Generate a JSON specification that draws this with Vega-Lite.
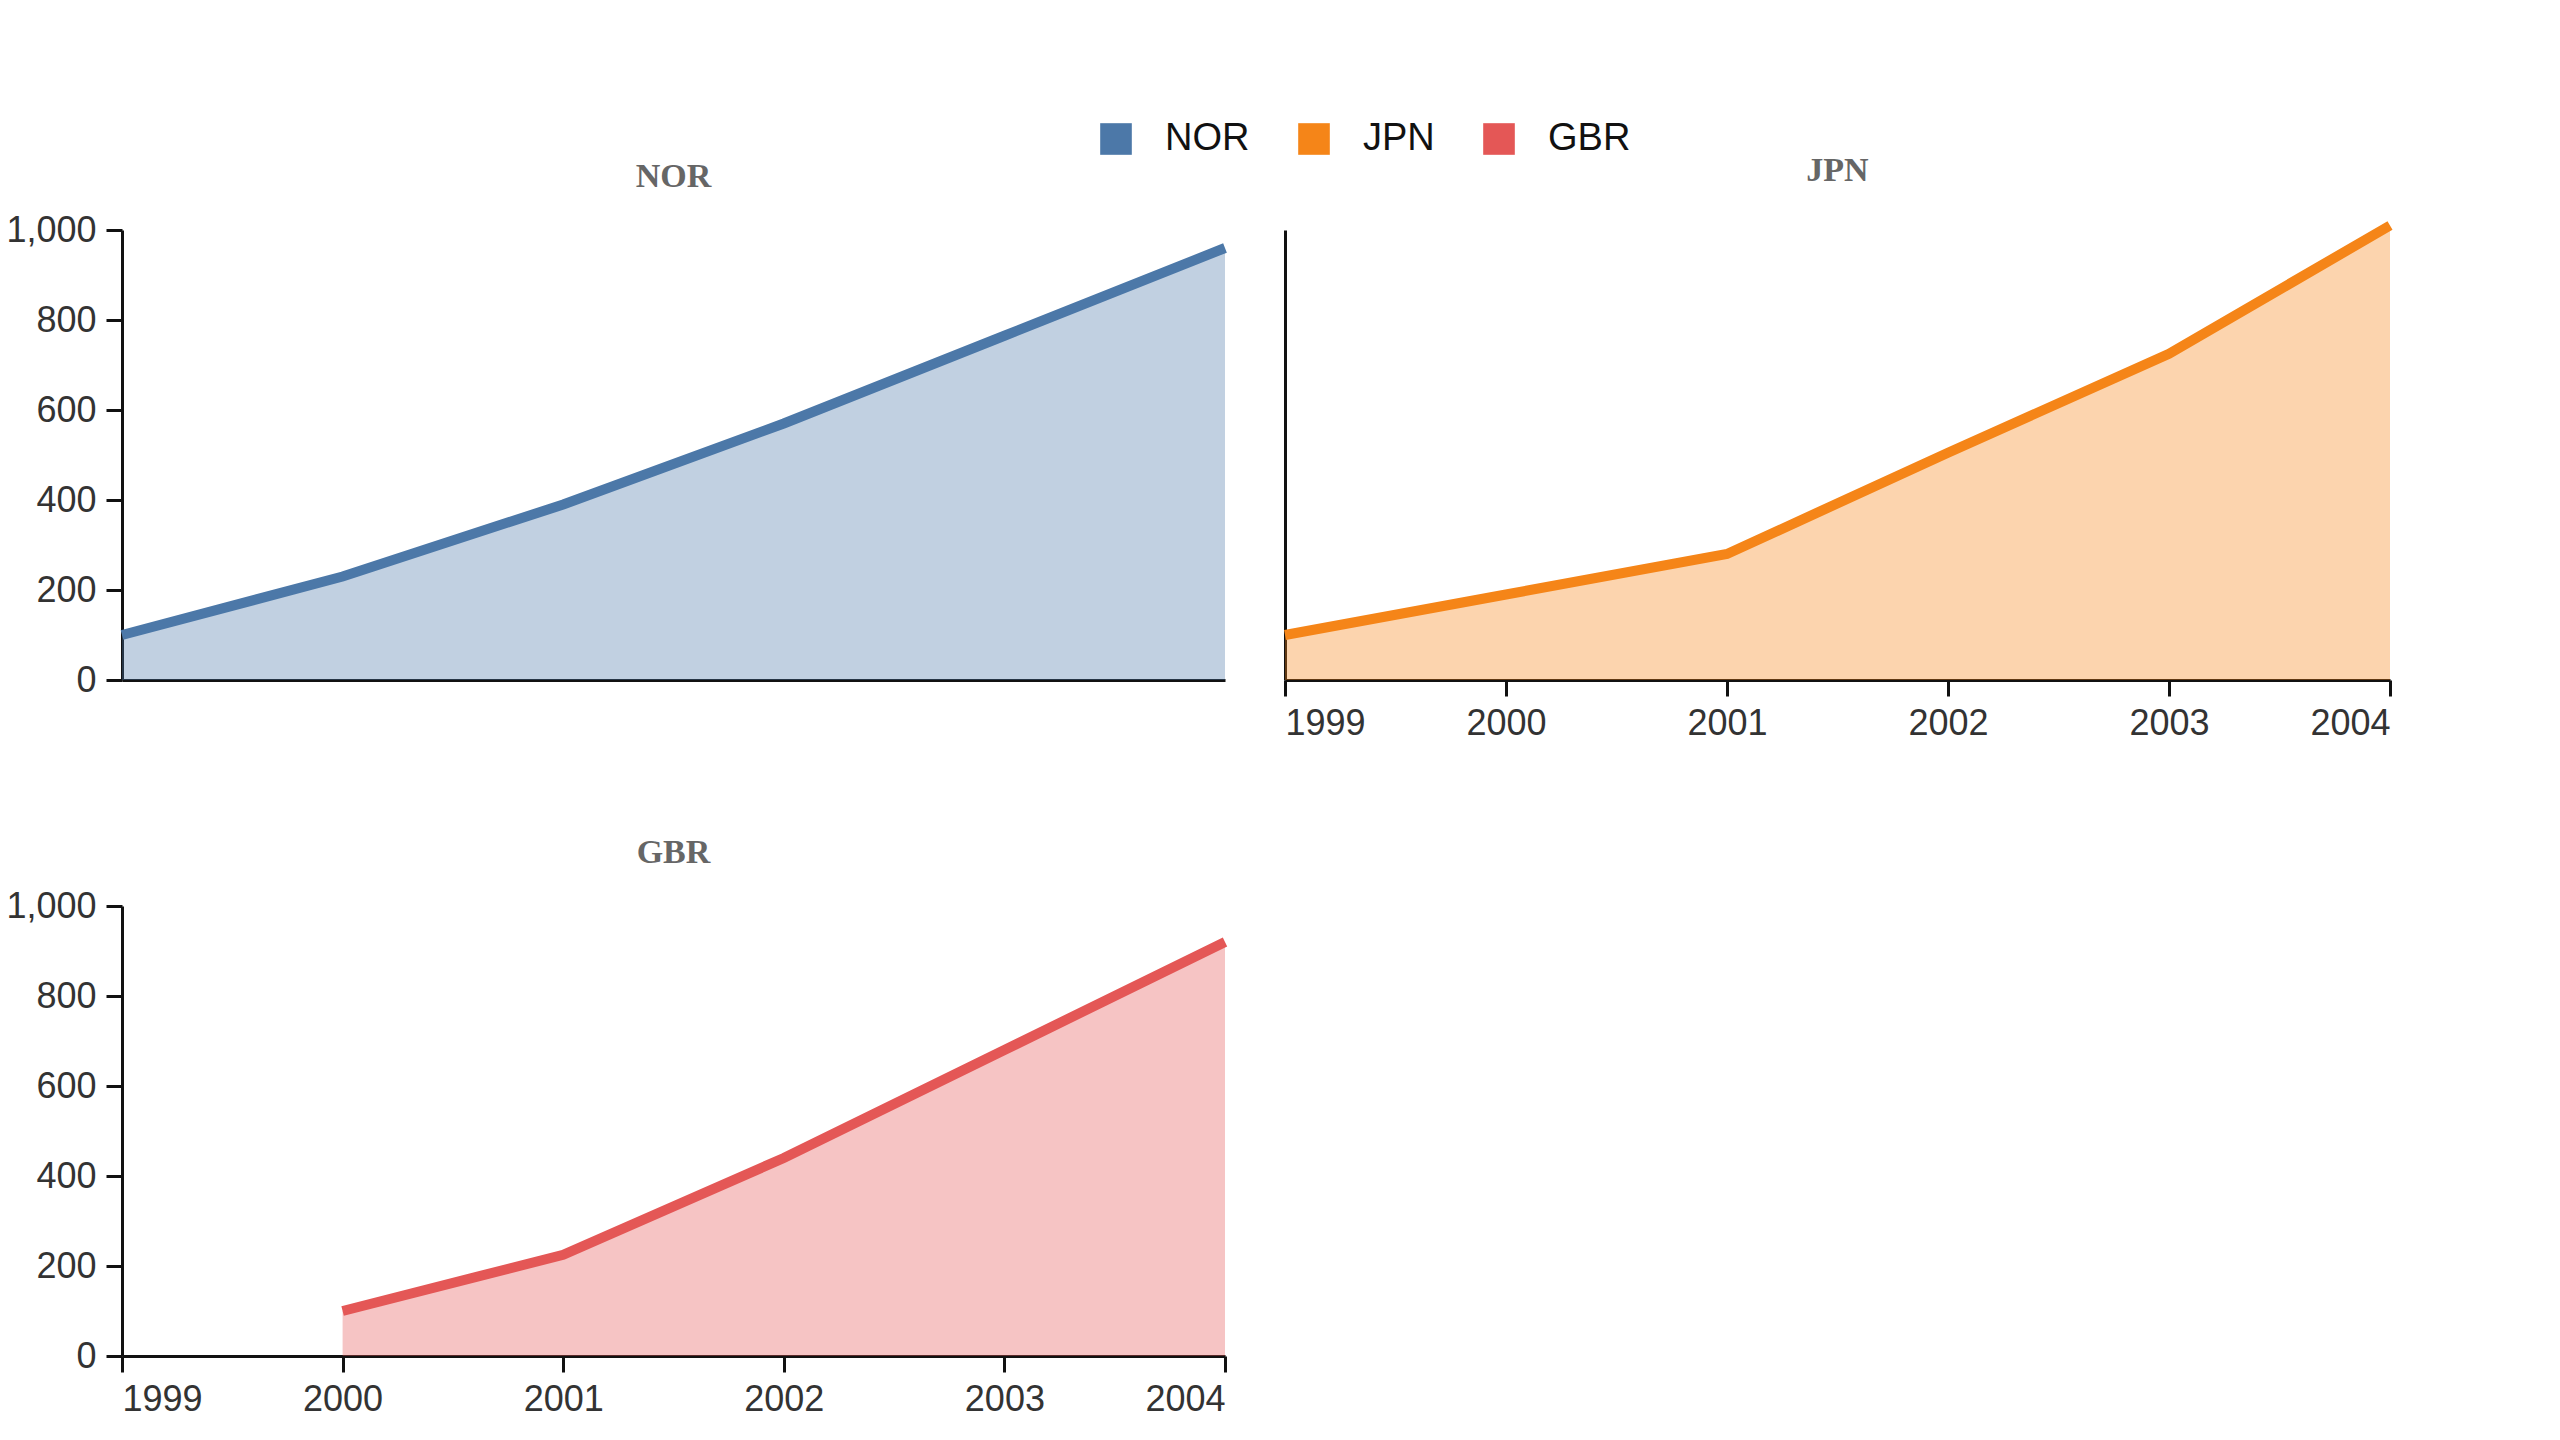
{
  "$schema": "https://vega.github.io/schema/vega-lite/v6.json",
  "background": "white",
  "padding": {"left": 5, "top": 120, "right": 25, "bottom": 10},
  "title": {
    "text": "Healthcare insurance coverage varies widely by country and system design.",
    "orient": "bottom",
    "anchor": "start",
    "frame": "bounds",
    "font": "Liberation Sans",
    "fontSize": 36,
    "fontWeight": "normal",
    "color": "#444",
    "offset": 25
  },
  "data": {
    "values": [
      {"country": "NOR", "year": 1999, "value": 100},
      {"country": "NOR", "year": 2000, "value": 230},
      {"country": "NOR", "year": 2001, "value": 390},
      {"country": "NOR", "year": 2002, "value": 570},
      {"country": "NOR", "year": 2003, "value": 765},
      {"country": "NOR", "year": 2004, "value": 960},
      {"country": "JPN", "year": 1999, "value": 100},
      {"country": "JPN", "year": 2000, "value": 190},
      {"country": "JPN", "year": 2001, "value": 280},
      {"country": "JPN", "year": 2002, "value": 505},
      {"country": "JPN", "year": 2003, "value": 725},
      {"country": "JPN", "year": 2004, "value": 1010},
      {"country": "GBR", "year": 2000, "value": 100},
      {"country": "GBR", "year": 2001, "value": 225},
      {"country": "GBR", "year": 2002, "value": 440},
      {"country": "GBR", "year": 2003, "value": 680},
      {"country": "GBR", "year": 2004, "value": 920}
    ]
  },
  "spacing": 95,
  "vconcat": [
    {
      "hconcat": [
        {
          "title": "NOR",
          "width": 1103,
          "height": 450,
          "transform": [{"filter": "datum.country === 'NOR'"}],
          "encoding": {
            "x": {"field": "year", "type": "quantitative", "scale": {"domain": [1999, 2004], "nice": false, "zero": false},
                  "axis": {"title": null, "labels": false, "ticks": false}},
            "y": {"field": "value", "type": "quantitative", "scale": {"domain": [0, 1000]}, "axis": {"title": null, "tickCount": 5}},
            "color": {"field": "country", "type": "nominal",
                      "scale": {"domain": ["NOR", "JPN", "GBR"], "range": ["#4c78a8", "#f58518", "#e45756"]},
                      "legend": {"title": null, "orient": "none", "direction": "horizontal", "legendX": 975, "legendY": -110}}
          },
          "layer": [
            {"mark": {"type": "area", "opacity": 0.35}},
            {"mark": {"type": "line", "strokeWidth": 10}}
          ]
        },
        {
          "title": "JPN",
          "width": 1105,
          "height": 450,
          "transform": [{"filter": "datum.country === 'JPN'"}],
          "encoding": {
            "x": {"field": "year", "type": "quantitative", "scale": {"domain": [1999, 2004], "nice": false, "zero": false},
                  "axis": {"title": null, "format": "d", "values": [1999, 2000, 2001, 2002, 2003, 2004], "labelFlush": true}},
            "y": {"field": "value", "type": "quantitative", "scale": {"domain": [0, 1000]}, "axis": {"title": null, "labels": false, "ticks": false}},
            "color": {"field": "country", "type": "nominal"}
          },
          "layer": [
            {"mark": {"type": "area", "opacity": 0.35}},
            {"mark": {"type": "line", "strokeWidth": 10}}
          ]
        }
      ]
    },
    {
      "title": "GBR",
      "width": 1103,
      "height": 450,
      "transform": [{"filter": "datum.country === 'GBR'"}],
      "encoding": {
        "x": {"field": "year", "type": "quantitative", "scale": {"domain": [1999, 2004], "nice": false, "zero": false},
              "axis": {"title": null, "format": "d", "values": [1999, 2000, 2001, 2002, 2003, 2004], "labelFlush": true}},
        "y": {"field": "value", "type": "quantitative", "scale": {"domain": [0, 1000]}, "axis": {"title": null, "tickCount": 5}},
        "color": {"field": "country", "type": "nominal"}
      },
      "layer": [
        {"mark": {"type": "area", "opacity": 0.35}},
        {"mark": {"type": "line", "strokeWidth": 10}}
      ]
    }
  ],
  "config": {
    "view": {"stroke": null},
    "title": {"font": "Liberation Serif", "fontWeight": "bold", "fontSize": 34, "color": "#666", "offset": 18},
    "legend": {"symbolType": "square", "symbolSize": 1000, "symbolOpacity": 1, "symbolStrokeWidth": 0,
               "labelFontSize": 38, "labelFont": "Liberation Sans", "labelColor": "#111", "labelOffset": 30,
               "columnPadding": 45},
    "axis": {
      "grid": false,
      "offset": 0,
      "labelFont": "Liberation Sans",
      "labelFontSize": 36,
      "labelColor": "#333",
      "domainColor": "#111",
      "domainWidth": 3,
      "tickColor": "#111",
      "tickWidth": 3,
      "tickSize": 16,
      "labelPadding": 10
    }
  }
}
